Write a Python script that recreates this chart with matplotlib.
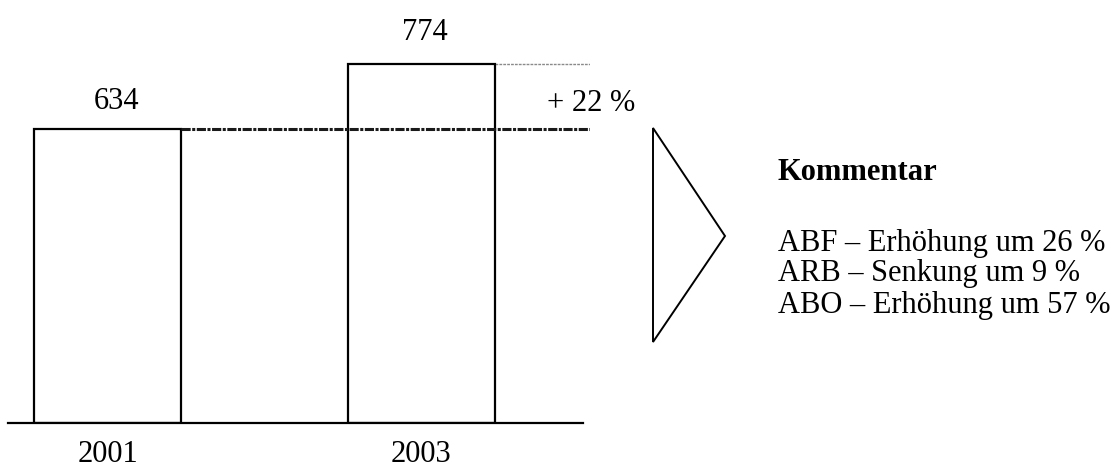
import matplotlib
matplotlib.use("Agg")
import matplotlib.pyplot as plt
from matplotlib.patches import Polygon

plt.rcParams['font.family'] = ['Liberation Serif', 'DejaVu Serif']

years = ["2001", "2003"]
values = [634, 774]
change_label = "+ 22 %"
comment_title = "Kommentar"
comment_lines = ["ABF – Erhöhung um 26 %",
                 "ARB – Senkung um 9 %",
                 "ABO – Erhöhung um 57 %"]

W, H = 1119, 467
fig = plt.figure(figsize=(W / 100, H / 100), dpi=100)

# bar axes: pixel box x 8..590, y 0..423 (from top)
ax = fig.add_axes([8 / W, (H - 423) / H, (590 - 8) / W, 423 / H])
ax.set_ylim(0, 910.8)
ax.set_xlim(-0.317, 1.537)
ax.axis('off')

xs = list(range(len(values)))
bw = 0.468
ax.bar(xs, values, width=bw, facecolor='white', edgecolor='black', linewidth=1.6, zorder=3)
ax.plot([-0.317, 1.514], [0, 0], color='black', lw=1.6, zorder=4, clip_on=False)

# reference lines at bar tops
ax.plot([xs[0] + bw / 2, 1.537], [values[0], values[0]], color='#1a1a1a', lw=2.2,
        linestyle=(0, (3, 0.5, 1, 0.5)), zorder=5)
ax.plot([xs[1] + bw / 2, 1.537], [values[1], values[1]], color='#8a8a8a', lw=1.0,
        linestyle=(0, (2, 0.8)), zorder=2)

fs = 22
pxu = 0.4644  # px per unit
ax.text(xs[0] + 0.03, values[0] + 27 / pxu, str(values[0]), ha='center', va='center', fontsize=fs)
ax.text(xs[1] + 0.01, values[1] + 31 / pxu, str(values[1]), ha='center', va='center', fontsize=fs)
for x, y in zip(xs, years):
    ax.text(x, -31 / pxu, y, ha='center', va='center', fontsize=fs, clip_on=False)

ax.text(1.4, values[0] + 25 / pxu, change_label, ha='left', va='center', fontsize=fs)

# overlay axes in pixel coordinates for triangle and comment
ov = fig.add_axes([0, 0, 1, 1])
ov.set_xlim(0, W)
ov.set_ylim(H, 0)
ov.axis('off')
ov.add_patch(Polygon([[653, 128], [725, 236], [653, 342]], closed=True,
                     facecolor='white', edgecolor='black', lw=1.4))
ov.text(778, 172, comment_title, fontsize=fs, fontweight='bold', ha='left', va='center')
for i, line in enumerate(comment_lines):
    ov.text(778, 243 + 31 * i, line, fontsize=fs, ha='left', va='center')

fig.savefig("out.png", dpi=100)
